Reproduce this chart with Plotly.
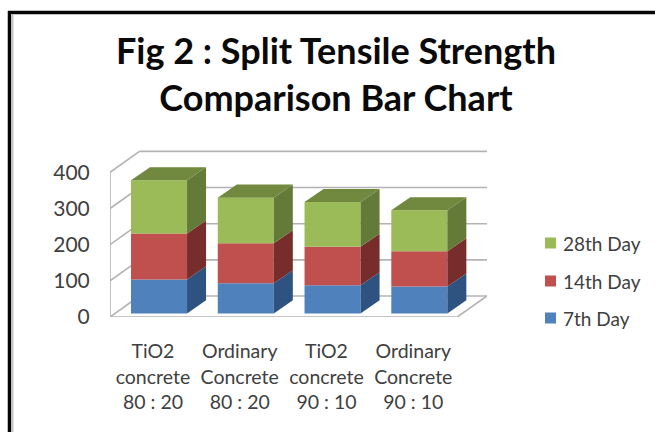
import plotly.graph_objects as go

categories = ["TiO2<br>concrete<br>80 : 20", "Ordinary<br>Concrete<br>80 : 20",
              "TiO2<br>concrete<br>90 : 10", "Ordinary<br>Concrete<br>90 : 10"]
day7 = [94, 83, 78, 74]
day14 = [127, 111, 106, 98]
day28 = [147, 126, 124, 113]
y_ticks = [0, 100, 200, 300, 400]

series = [
    ("7th Day", day7, "#4f81bd", "#2f5380", "#3a5f8c"),
    ("14th Day", day14, "#c0504d", "#772d2b", "#8a3a38"),
    ("28th Day", day28, "#9bbb59", "#647a38", "#71893f"),
]

FONT = "Lato"
TEXT = "#404040"
GRID = "#b3b3b3"
X0, X1 = -0.565, 3.78        # axis range: category units
YMAX = 461.7
BAR_W = 0.646
FLOOR = 10                   # bars stand a little behind the front edge
BAR_DX, BAR_DY = 0.219, 36   # bar depth on the oblique projection
WALL_DX, WALL_DY = 0.34, 58  # wall depth on the oblique projection
FLOOR_RIGHT = 3.437
LABEL_SHIFT = -0.07          # labels sit on the front plane, left of the bars
PW, PH = 377, 167            # plot area size, px
PL, PB = 110, 317            # plot area left / bottom, px


def px(x):
    return (x - PL) / PW


def py(y):
    return (PB - y) / PH


xs = list(range(len(categories)))
fig = go.Figure()

base = [FLOOR] * len(xs)
for name, vals, color, side, top in series:
    fig.add_trace(go.Bar(x=xs, y=vals, base=base, width=BAR_W, name=name,
                         marker=dict(color=color, line=dict(width=0)), showlegend=False))
    sx, sy = [], []
    for i, (v, b) in enumerate(zip(vals, base)):
        r = i + BAR_W / 2
        sx += [r, r + BAR_DX, r + BAR_DX, r, r, None]
        sy += [b, b + BAR_DY, b + v + BAR_DY, b + v, b, None]
    fig.add_trace(go.Scatter(x=sx, y=sy, fill="toself", fillcolor=side, mode="none",
                             showlegend=False, hoverinfo="skip"))
    base = [b + v for b, v in zip(base, vals)]

# top faces of the highest series
tx, ty = [], []
for i, b in enumerate(base):
    l, r = i - BAR_W / 2, i + BAR_W / 2
    tx += [l, r, r + BAR_DX, l + BAR_DX, l, None]
    ty += [b, b, b + BAR_DY, b + BAR_DY, b, None]
fig.add_trace(go.Scatter(x=tx, y=ty, fill="toself", fillcolor=series[-1][4], mode="none",
                         showlegend=False, hoverinfo="skip"))


def wall_line(x0, y0, x1, y1):
    return dict(type="line", xref="x", yref="y", x0=x0, y0=y0, x1=x1, y1=y1, layer="below",
                line=dict(color=GRID, width=1.6))


shapes = []
for t in y_ticks:
    shapes.append(wall_line(X0, t, X0 + WALL_DX, t + WALL_DY))
    shapes.append(wall_line(X0 + WALL_DX, t + WALL_DY, X1, t + WALL_DY))
shapes.append(wall_line(X0, 0, X0, y_ticks[-1]))
shapes.append(wall_line(X0, 0, FLOOR_RIGHT, 0))
shapes.append(wall_line(FLOOR_RIGHT, 0, X1, WALL_DY))

# slide frame
FRAME = "#050505"
for x0, y0, x1, y1, c, w in [
    (8, 12.5, 660, 12.5, FRAME, 3.5),
    (9.5, 11, 9.5, 440, FRAME, 3.5),
    (12.5, 14, 12.5, 440, "#c4c4c4", 2),
]:
    shapes.append(dict(type="line", xref="paper", yref="paper", layer="above",
                       x0=px(x0), x1=px(x1), y0=py(y0), y1=py(y1), line=dict(color=c, width=w)))

# legend, newest series on top
annotations = []
for (name, vals, color, side, top), ly in zip(reversed(series), [243, 281, 318]):
    shapes.append(dict(type="rect", xref="paper", yref="paper", layer="above",
                       x0=px(545), x1=px(556), y0=py(ly + 5.5), y1=py(ly - 5.5),
                       fillcolor=color, line=dict(width=0)))
    annotations.append(dict(text=name, xref="paper", yref="paper", x=px(561), y=py(ly),
                            xanchor="left", yanchor="middle", showarrow=False,
                            font=dict(family=FONT, size=19, color=TEXT)))

fig.update_layout(
    width=655, height=432,
    autosize=False,
    margin=dict(l=PL, r=655 - PL - PW, t=PB - PH, b=432 - PB),
    paper_bgcolor="white", plot_bgcolor="white",
    barmode="overlay",
    showlegend=False,
    shapes=shapes,
    annotations=annotations,
    title=dict(text="<b>Fig 2 : Split Tensile Strength<br>Comparison Bar Chart</b>",
               font=dict(family=FONT, size=36, color="#0a0a0a"),
               x=336 / 655, xanchor="center", xref="container",
               y=1 - 64 / 432, yanchor="middle", yref="container"),
    xaxis=dict(range=[X0, X1], tickmode="array", tickvals=[x + LABEL_SHIFT for x in xs],
               ticktext=categories,
               showgrid=False, zeroline=False, showline=False,
               ticks="outside", ticklen=17, tickcolor="rgba(0,0,0,0)",
               tickfont=dict(family=FONT, size=19.5, color=TEXT)),
    yaxis=dict(range=[0, YMAX], tickmode="array", tickvals=y_ticks,
               showgrid=False, zeroline=False, showline=False,
               ticks="outside", ticklen=15, tickcolor="rgba(0,0,0,0)",
               tickfont=dict(family=FONT, size=21, color=TEXT)),
)

fig.write_html("out.html", post_script="document.body.style.margin='0';",
               config={"displayModeBar": False})
